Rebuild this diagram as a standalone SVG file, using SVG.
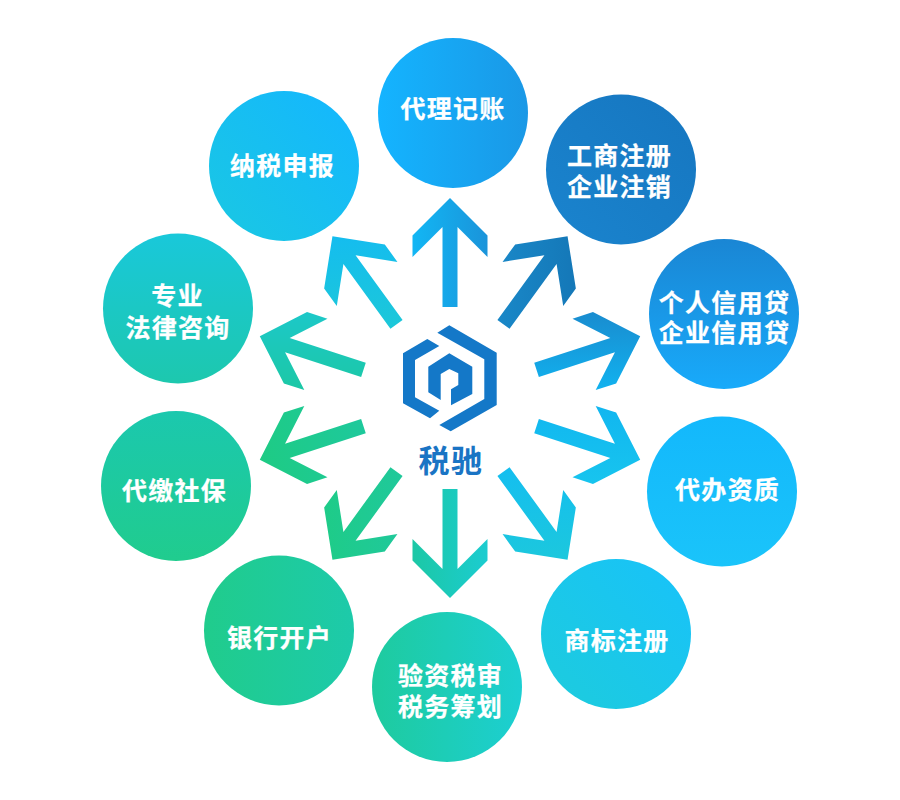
<svg xmlns="http://www.w3.org/2000/svg" xmlns:xlink="http://www.w3.org/1999/xlink" width="900" height="800" viewBox="0 0 900 800">
<style>
.lbl{font-family:"Noto Sans CJK SC","Liberation Sans",sans-serif;font-weight:700;font-size:25px;letter-spacing:1.3px;fill:#fff;text-anchor:middle;stroke:#fff;stroke-width:.25px}
.brand{font-family:"Noto Sans CJK SC","Liberation Sans",sans-serif;font-weight:700;font-size:31px;letter-spacing:1.5px;fill:#1a74c4;text-anchor:middle}
.logo{fill:#1478c8}
</style>
<defs>
<polygon id="arrow" points="0,-200 37.5,-162.5 37.5,-141 7.5,-171 7.5,-91 -7.5,-91 -7.5,-171 -37.5,-141 -37.5,-162.5"/>
<linearGradient id="a0" gradientUnits="userSpaceOnUse" x1="-37" y1="-145" x2="37" y2="-145"><stop offset="0" stop-color="#12b6f4"/><stop offset="1" stop-color="#1a94da"/></linearGradient>
<linearGradient id="a36" gradientUnits="userSpaceOnUse" x1="-40" y1="-116" x2="40" y2="-174"><stop offset="0" stop-color="#1a8aca"/><stop offset="1" stop-color="#1476b6"/></linearGradient>
<linearGradient id="a72" gradientUnits="userSpaceOnUse" x1="-47" y1="-160" x2="47" y2="-130"><stop offset="0" stop-color="#1a88cc"/><stop offset="1" stop-color="#10b8f4"/></linearGradient>
<linearGradient id="a108" gradientUnits="userSpaceOnUse" x1="-47" y1="-130" x2="47" y2="-160"><stop offset="0" stop-color="#10b4f0"/><stop offset="1" stop-color="#18c6ee"/></linearGradient>
<linearGradient id="a144" gradientUnits="userSpaceOnUse" x1="-29" y1="-105" x2="29" y2="-185"><stop offset="0" stop-color="#14bef0"/><stop offset="1" stop-color="#1cc8dc"/></linearGradient>
<linearGradient id="a180" gradientUnits="userSpaceOnUse" x1="37" y1="-145" x2="-37" y2="-145"><stop offset="0" stop-color="#1cc8a6"/><stop offset="1" stop-color="#1bccd0"/></linearGradient>
<linearGradient id="a216" gradientUnits="userSpaceOnUse" x1="40" y1="-174" x2="-40" y2="-116"><stop offset="0" stop-color="#1ecc86"/><stop offset="1" stop-color="#20c89e"/></linearGradient>
<linearGradient id="a252" gradientUnits="userSpaceOnUse" x1="0" y1="-91" x2="0" y2="-200"><stop offset="0" stop-color="#1ec99c"/><stop offset="1" stop-color="#1ecb84"/></linearGradient>
<linearGradient id="a288" gradientUnits="userSpaceOnUse" x1="47" y1="-160" x2="-47" y2="-130"><stop offset="0" stop-color="#1cc8cc"/><stop offset="1" stop-color="#1cc8a0"/></linearGradient>
<linearGradient id="a324" gradientUnits="userSpaceOnUse" x1="29" y1="-185" x2="-29" y2="-105"><stop offset="0" stop-color="#14bcf0"/><stop offset="1" stop-color="#1cc8d8"/></linearGradient>
<linearGradient id="c0" x1="0" y1="0" x2="1" y2="0"><stop offset="0" stop-color="#14b4ff"/><stop offset="1" stop-color="#1a98e6"/></linearGradient>
<linearGradient id="c1" x1="0" y1="1" x2="1" y2="0"><stop offset="0" stop-color="#1a84ce"/><stop offset="1" stop-color="#1676c0"/></linearGradient>
<linearGradient id="c2" x1="0" y1="0" x2="0" y2="1"><stop offset="0" stop-color="#1a86d4"/><stop offset="1" stop-color="#18aafa"/></linearGradient>
<linearGradient id="c3" x1="0" y1="0" x2="0" y2="1"><stop offset="0" stop-color="#13b8fc"/><stop offset="1" stop-color="#1ac4fa"/></linearGradient>
<linearGradient id="c4" x1="0" y1="1" x2="1" y2="0"><stop offset="0" stop-color="#1dccdc"/><stop offset="1" stop-color="#18c2fa"/></linearGradient>
<linearGradient id="c5" x1="0" y1="0" x2="1" y2="0"><stop offset="0" stop-color="#1ecb9e"/><stop offset="1" stop-color="#1ccfd2"/></linearGradient>
<linearGradient id="c6" x1="0" y1="0" x2="1" y2="0"><stop offset="0" stop-color="#20cc8c"/><stop offset="1" stop-color="#1dcaaa"/></linearGradient>
<linearGradient id="c7" x1="0" y1="0" x2="0" y2="1"><stop offset="0" stop-color="#1bc8ae"/><stop offset="1" stop-color="#20cc8e"/></linearGradient>
<linearGradient id="c8" x1="0" y1="0" x2="0" y2="1"><stop offset="0" stop-color="#19c8da"/><stop offset="1" stop-color="#1dc8ae"/></linearGradient>
<linearGradient id="c9" x1="0" y1="1" x2="1" y2="0"><stop offset="0" stop-color="#1ac8e2"/><stop offset="1" stop-color="#14b6ff"/></linearGradient>
</defs>
<rect width="900" height="800" fill="#fff"/>
<g id="connectors">
<use href="#arrow" fill="url(#a0)" transform="translate(450 398) rotate(0)"/>
<use href="#arrow" fill="url(#a36)" transform="translate(450 398) rotate(36)"/>
<use href="#arrow" fill="url(#a72)" transform="translate(450 398) rotate(72)"/>
<use href="#arrow" fill="url(#a108)" transform="translate(450 398) rotate(108)"/>
<use href="#arrow" fill="url(#a144)" transform="translate(450 398) rotate(144)"/>
<use href="#arrow" fill="url(#a180)" transform="translate(450 398) rotate(180)"/>
<use href="#arrow" fill="url(#a216)" transform="translate(450 398) rotate(216)"/>
<use href="#arrow" fill="url(#a252)" transform="translate(450 398) rotate(252)"/>
<use href="#arrow" fill="url(#a288)" transform="translate(450 398) rotate(288)"/>
<use href="#arrow" fill="url(#a324)" transform="translate(450 398) rotate(324)"/>
</g>
<g id="center">
<polygon class="logo" points="437.3,332.7 449.3,325.3 496.7,352.7 496.7,405 450.7,431.3 439.3,425 484.3,399 484.3,359.3"/>
<polygon class="logo" points="427.3,339 439.3,346 415,360 415,397.3 439.3,410.7 430,418.3 403,403.3 403,353.3"/>
<polygon class="logo" points="449.3,353.3 472.3,366.7 472.3,394 451,405.3 451,389.3 458.3,385 458.3,373.3 449.3,369 440.7,374 440.7,400 428.3,392.3 428.3,366.7"/>
<text class="brand" x="451" y="472">税驰</text>
</g>
<g id="n-dlij"><circle cx="453" cy="113" r="75" fill="url(#c0)"/><text class="lbl" x="453" y="118">代理记账</text></g>
<g id="n-gszc"><circle cx="621" cy="169.5" r="75" fill="url(#c1)"/><text class="lbl"><tspan x="619.5" y="165">工商注册</tspan><tspan x="619.5" y="196">企业注销</tspan></text></g>
<g id="n-xyd"><circle cx="724" cy="314" r="75" fill="url(#c2)"/><text class="lbl"><tspan x="724.5" y="311.5">个人信用贷</tspan><tspan x="724.5" y="342">企业信用贷</tspan></text></g>
<g id="n-zz"><circle cx="722" cy="491.5" r="75" fill="url(#c3)"/><text class="lbl" x="727.5" y="498.5">代办资质</text></g>
<g id="n-sb"><circle cx="616" cy="634" r="75" fill="url(#c4)"/><text class="lbl" x="617" y="650">商标注册</text></g>
<g id="n-ys"><circle cx="447" cy="687" r="75" fill="url(#c5)"/><text class="lbl"><tspan x="450.5" y="685">验资税审</tspan><tspan x="450.5" y="716">税务筹划</tspan></text></g>
<g id="n-yh"><circle cx="279" cy="630.5" r="75" fill="url(#c6)"/><text class="lbl" x="279.5" y="647">银行开户</text></g>
<g id="n-sbao"><circle cx="176" cy="486" r="75" fill="url(#c7)"/><text class="lbl" x="174.5" y="499.5">代缴社保</text></g>
<g id="n-fl"><circle cx="178" cy="308.5" r="75" fill="url(#c8)"/><text class="lbl"><tspan x="177.5" y="305">专业</tspan><tspan x="178" y="336.5">法律咨询</tspan></text></g>
<g id="n-ns"><circle cx="284" cy="166" r="75" fill="url(#c9)"/><text class="lbl" x="282.5" y="174.5">纳税申报</text></g>
</svg>
